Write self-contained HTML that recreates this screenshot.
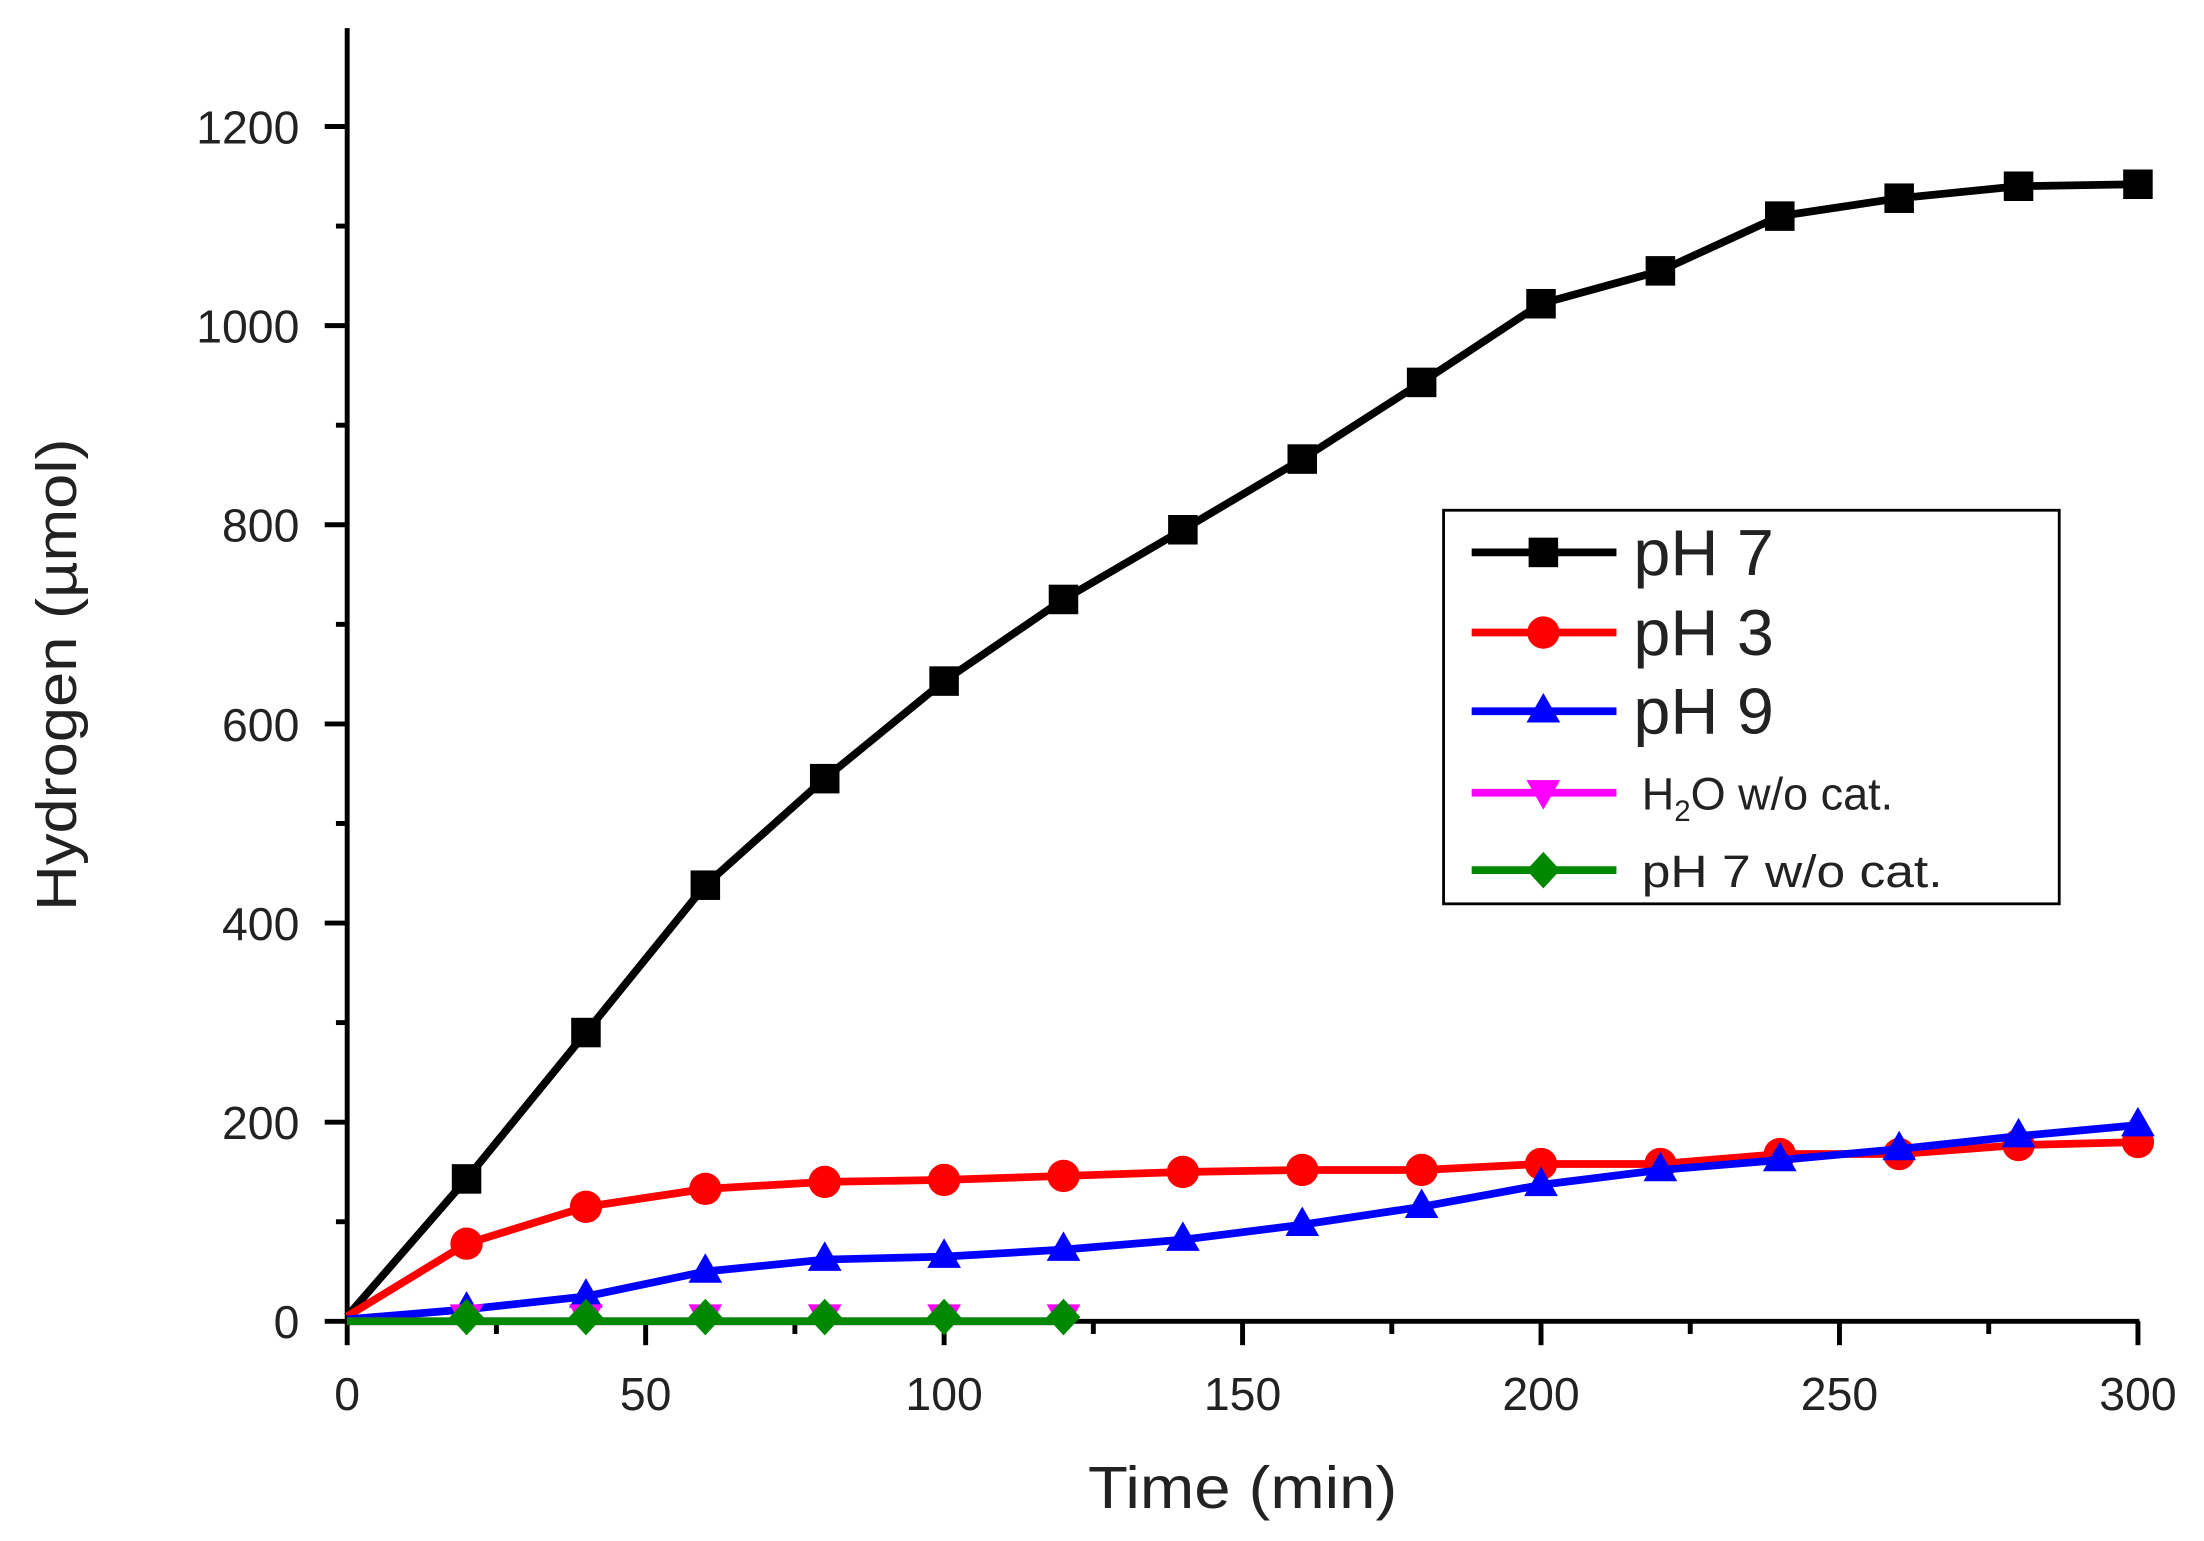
<!DOCTYPE html>
<html><head><meta charset="utf-8"><style>html,body{margin:0;padding:0;background:#fff}svg{display:block}</style></head>
<body>
<svg id="s" xmlns="http://www.w3.org/2000/svg" width="2204" height="1541" viewBox="0 0 1568 1096.3" preserveAspectRatio="none" font-family="Liberation Sans, sans-serif">
<rect width="1568" height="1097" fill="#fff"/>
<g id="axes" stroke="#000" stroke-width="3.5" fill="none">
<line x1="247" y1="20" x2="247" y2="941"/>
<line x1="246" y1="940" x2="1522" y2="940"/>
</g>
<g id="ticks" stroke="#000" stroke-width="3.5"></g>
<g id="labels" font-size="33" fill="#222"></g>
<g id="series"></g>
<text x="884" y="1073" font-size="42" text-anchor="middle" fill="#222" textLength="220" lengthAdjust="spacingAndGlyphs">Time (min)</text>
<text transform="translate(54,480) rotate(-90)" font-size="40" text-anchor="middle" fill="#222" textLength="336" lengthAdjust="spacingAndGlyphs">Hydrogen (µmol)</text>
<g id="legend">
<rect x="1027" y="363" width="438" height="280" fill="#fff" stroke="#000" stroke-width="2"/>
</g>
</svg>
<script>
const NS="http://www.w3.org/2000/svg";
const X=v=>247+v*1274/300, Y=v=>940-v*850/1200;
function el(p,t,a,txt){const e=document.createElementNS(NS,t);for(const k in a)e.setAttribute(k,a[k]);if(txt!==undefined)e.textContent=txt;p.appendChild(e);return e;}
const tk=document.getElementById('ticks'),lb=document.getElementById('labels');
for(let v=0;v<=300;v+=25){const x=X(v);el(tk,'line',{x1:x,y1:940,x2:x,y2:v%50?949:957});if(v%50==0)el(lb,'text',{x:x,y:1003,'text-anchor':'middle'},v);}
for(let v=0;v<=1300;v+=100){const y=Y(v);if(y<20)continue;el(tk,'line',{x1:247,y1:y,x2:v%200?239:231,y2:y});if(v%200==0)el(lb,'text',{x:213,y:y+12,'text-anchor':'end'},v);}
const t=[0,20,40,60,80,100,120,140,160,180,200,220,240,260,280,300];
const S=[
{c:'#000',m:'sq',d:[5,143,290,438,545,643,725,795,866,943,1022,1055,1110,1128,1140,1142]},
{c:'#f00',m:'ci',d:[5,78,115,133,140,142,146,150,152,152,158,158,168,168,177,180]},
{c:'#00f',m:'tu',d:[2,12,25,50,62,65,72,82,97,115,137,152,162,173,186,197]},
{c:'#f0f',m:'td',d:[0,0,0,0,0,0,0],tt:[0,20,40,60,80,100,120]},
{c:'#080',m:'di',d:[0,0,0,0,0,0,0],tt:[0,20,40,60,80,100,120]}
];
function mk(g,m,x,y,c){
 if(m=='sq')el(g,'rect',{x:x-10.5,y:y-10.5,width:21,height:21,fill:c});
 else if(m=='ci')el(g,'circle',{cx:x,cy:y,r:11.5,fill:c});
 else if(m=='tu')el(g,'polygon',{points:`${x},${y-13} ${x+12},${y+8} ${x-12},${y+8}`,fill:c});
 else if(m=='td')el(g,'polygon',{points:`${x},${y+12} ${x+12},${y-9} ${x-12},${y-9}`,fill:c});
 else el(g,'polygon',{points:`${x},${y-13} ${x+12},${y} ${x},${y+13} ${x-12},${y}`,fill:c});
}
const sg=document.getElementById('series');
const order=[0,1,2,3,4];
for(const i of order){const s=S[i],tt=s.tt||t;
 const pts=tt.map((v,j)=>X(v)+','+Y(s.d[j])).join(' ');
 el(sg,'polyline',{points:pts,fill:'none',stroke:s.c,'stroke-width':5.5,'stroke-linejoin':'round'});
 tt.forEach((v,j)=>{if(j>0)mk(sg,s.m,X(v),Y(s.d[j])-(i>=3?3:0),s.c);});
}
const lg=document.getElementById('legend');
const L=[[393,'pH 7',46,100],[450,'pH 3',46,100],[506,'pH 9',46,100],[564,'H2O',32,204],[619,'pH 7 w/o cat.',32,214]];
L.forEach((e,i)=>{const y=e[0],s=S[i];
 el(lg,'line',{x1:1047,y1:y,x2:1150,y2:y,stroke:s.c,'stroke-width':5.5});
 mk(lg,s.m,1098,y,s.c);
 if(i==3){const tx=el(lg,'text',{x:1168,y:y+12,'font-size':32,fill:'#222'});
  tx.innerHTML='H<tspan font-size="21" dy="8">2</tspan><tspan dy="-8">O w/o cat.</tspan>';}
 else el(lg,'text',{x:i<3?1162:1168,y:y+(i<3?16:12),'font-size':e[2],fill:'#222',textLength:e[3],lengthAdjust:'spacingAndGlyphs'},e[1]);
});
</script>
</body></html>
